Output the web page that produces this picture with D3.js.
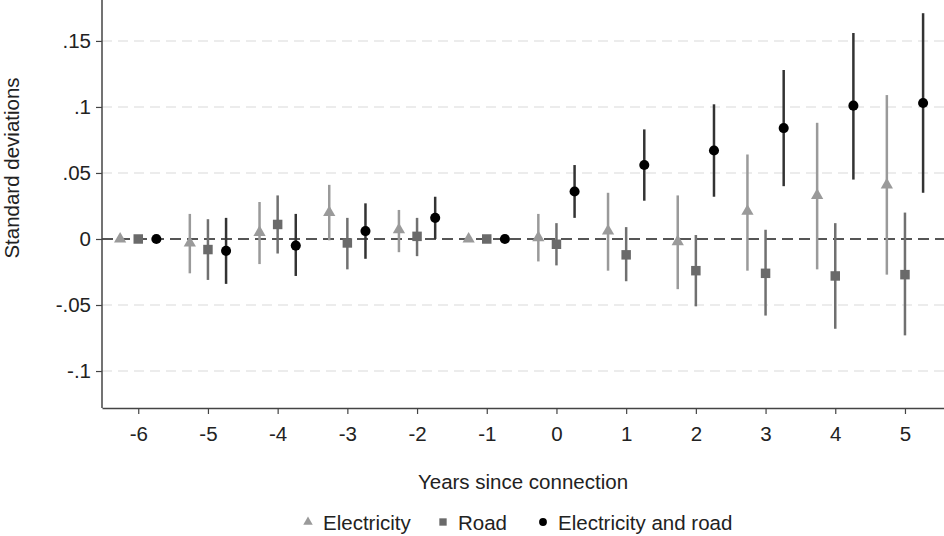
<!DOCTYPE html>
<html>
<head>
<meta charset="utf-8">
<script src="https://cdn.jsdelivr.net/npm/d3@7"></script>
<style>
  body { margin: 0; background: #fff; }
  svg { display: block; font-family: "Liberation Sans", Arial, sans-serif; }
</style>
</head>
<body>
<svg id="drawing_region"></svg>
<script>
const years = [-6, -5, -4, -3, -2, -1, 0, 1, 2, 3, 4, 5];

const elec   = [0, -0.003, 0.005, 0.020, 0.007, 0, 0.001, 0.006, -0.002, 0.021, 0.033, 0.041];
const elecLo = [0, -0.026, -0.019, -0.001, -0.010, 0, -0.017, -0.024, -0.038, -0.024, -0.023, -0.027];
const elecHi = [0, 0.019, 0.028, 0.041, 0.022, 0, 0.019, 0.035, 0.033, 0.064, 0.088, 0.109];

const road   = [0, -0.008, 0.011, -0.003, 0.002, 0, -0.004, -0.012, -0.024, -0.026, -0.028, -0.027];
const roadLo = [0, -0.031, -0.011, -0.023, -0.013, 0, -0.020, -0.032, -0.051, -0.058, -0.068, -0.073];
const roadHi = [0, 0.015, 0.033, 0.016, 0.016, 0, 0.012, 0.009, 0.003, 0.007, 0.012, 0.020];

const both   = [0, -0.009, -0.005, 0.006, 0.016, 0, 0.036, 0.056, 0.067, 0.084, 0.101, 0.103];
const bothLo = [0, -0.034, -0.028, -0.015, 0, 0, 0.016, 0.029, 0.032, 0.040, 0.045, 0.035];
const bothHi = [0, 0.016, 0.019, 0.027, 0.032, 0, 0.056, 0.083, 0.102, 0.128, 0.156, 0.171];

const yTicks = [-0.1, -0.05, 0, 0.05, 0.1, 0.15];
const yTickLabels = ["-.1", "-.05", "0", ".05", ".1", ".15"];

const seriesNames = ["Electricity", "Road", "Electricity and road"];

const width = 944, height = 536;
const margin = {top: 0, right: 0, bottom: 128, left: 102};
const innerW = width - margin.left - margin.right;
const innerH = height - margin.top - margin.bottom;
const fontSize = '20.5px';

const svg = d3.select('#drawing_region')
    .attr('width', width)
    .attr('height', height);

const chart = svg.append('g')
    .attr('transform', `translate(${margin.left}, ${margin.top})`);

const xscale = d3.scaleLinear().domain([-6.52, 5.56]).range([0, innerW]);
const yscale = d3.scaleLinear().domain([-0.128, 0.181]).range([innerH, 0]);

// series styles
const series = [
    {name: seriesNames[0], val: elec, lo: elecLo, hi: elecHi, off: -0.26,
     line: '#9a9a9a', fill: '#9a9a9a', sym: d3.symbolTriangle, size: 65},
    {name: seriesNames[1], val: road, lo: roadLo, hi: roadHi, off: 0,
     line: '#707070', fill: '#6a6a6a', sym: d3.symbolSquare, size: 90},
    {name: seriesNames[2], val: both, lo: bothLo, hi: bothHi, off: 0.26,
     line: '#333333', fill: '#000000', sym: d3.symbolCircle, size: 80}
];

// gridlines
chart.append('g')
    .selectAll('line')
    .data(yTicks.filter(d => d !== 0))
    .join('line')
    .attr('x1', 0).attr('x2', innerW)
    .attr('y1', d => yscale(d)).attr('y2', d => yscale(d))
    .attr('stroke', '#e6e6e6')
    .attr('stroke-width', 1.5)
    .attr('stroke-dasharray', '10,6');

// zero line
chart.append('line')
    .attr('x1', 0).attr('x2', innerW)
    .attr('y1', yscale(0)).attr('y2', yscale(0))
    .attr('stroke', '#555')
    .attr('stroke-width', 2)
    .attr('stroke-dasharray', '11,6');

// CI bars
series.forEach(s => {
    chart.append('g')
        .selectAll('line')
        .data(years.map((y, i) => ({x: y + s.off, lo: s.lo[i], hi: s.hi[i]})))
        .join('line')
        .attr('x1', d => xscale(d.x)).attr('x2', d => xscale(d.x))
        .attr('y1', d => yscale(d.lo)).attr('y2', d => yscale(d.hi))
        .attr('stroke', s.line)
        .attr('stroke-width', 2.5);
});

// markers
series.forEach(s => {
    chart.append('g')
        .selectAll('path')
        .data(years.map((y, i) => ({x: y + s.off, v: s.val[i]})))
        .join('path')
        .attr('d', d3.symbol().type(s.sym).size(s.size))
        .attr('transform', d => `translate(${xscale(d.x)}, ${yscale(d.v)})`)
        .attr('fill', s.fill);
});

// axes
const xaxis = d3.axisBottom(xscale).tickValues(years).tickFormat(d => String(d))
    .tickSize(6).tickSizeOuter(0).tickPadding(12);
const yaxis = d3.axisLeft(yscale).tickValues(yTicks)
    .tickFormat((d, i) => yTickLabels[i]).tickSize(6).tickSizeOuter(0).tickPadding(5);

const xg = chart.append('g')
    .attr('transform', `translate(0, ${innerH})`)
    .call(xaxis);
const yg = chart.append('g').call(yaxis);

[xg, yg].forEach(g => {
    g.attr('font-size', fontSize).attr('font-family', '"Liberation Sans", Arial, sans-serif');
    g.select('.domain').attr('stroke', '#444').attr('stroke-width', 1.5);
    g.selectAll('.tick line').attr('stroke', '#444').attr('stroke-width', 1.2);
    g.selectAll('.tick text').attr('fill', '#222');
});
yg.select('.domain').attr('d', `M0,${innerH}V0`);

// axis titles
svg.append('text')
    .attr('x', -(margin.top + 168))
    .attr('y', 19)
    .attr('transform', 'rotate(-90)')
    .attr('text-anchor', 'middle')
    .attr('font-size', fontSize)
    .attr('fill', '#222')
    .text('Standard deviations');

svg.append('text')
    .attr('x', margin.left + innerW / 2)
    .attr('y', 489)
    .attr('text-anchor', 'middle')
    .attr('font-size', fontSize)
    .attr('fill', '#222')
    .text('Years since connection');

// legend
const legendX = [308, 443, 543];
const legend = svg.append('g');
series.forEach((s, i) => {
    legend.append('path')
        .attr('d', d3.symbol().type(s.sym).size(s.size * 0.6))
        .attr('transform', `translate(${legendX[i]}, 522)`)
        .attr('fill', s.fill);
    legend.append('text')
        .attr('x', legendX[i] + 15)
        .attr('y', 530)
        .attr('font-size', fontSize)
        .attr('fill', '#222')
        .text(s.name);
});
</script>
</body>
</html>
